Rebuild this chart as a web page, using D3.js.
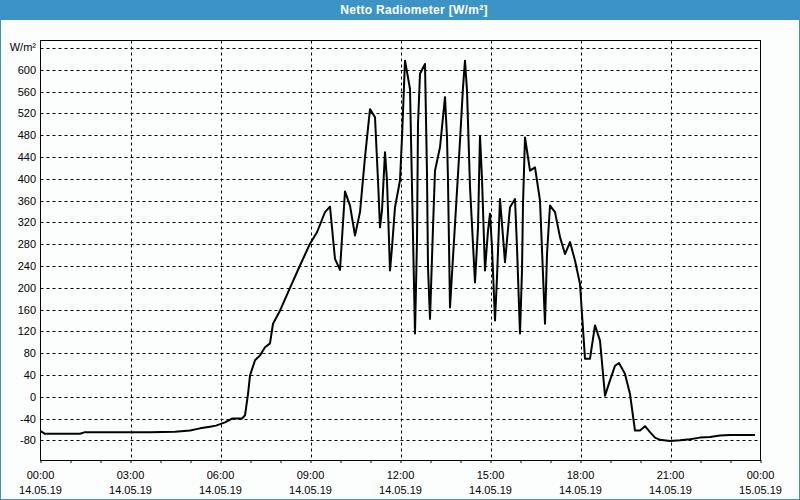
<!DOCTYPE html>
<html>
<head>
<meta charset="utf-8">
<script src="https://cdn.jsdelivr.net/npm/d3@7"></script>
<style>
  html, body { margin: 0; padding: 0; background: #fcfefd; }
  svg { display: block; }
  text { font-family: "Liberation Sans", Arial, sans-serif; font-size: 11px; fill: #000; }
</style>
</head>
<body>
<script>
// ---- data ----
const times = ["00:00","00:09","01:19","01:29","02:39","03:39","04:29","04:59","05:19","05:39","05:51","06:09","06:23","06:43","06:49","06:55","06:59","07:09","07:19","07:29","07:39","07:45","07:59","08:19","08:39","08:59","09:13","09:29","09:39","09:49","09:59","10:09","10:19","10:29","10:39","10:49","10:59","11:09","11:15","11:19","11:23","11:29","11:33","11:39","11:43","11:49","11:59","12:03","12:09","12:19","12:23","12:29","12:33","12:35","12:39","12:49","12:53","12:55","12:59","13:05","13:09","13:19","13:29","13:33","13:35","13:39","13:49","13:59","14:05","14:09","14:13","14:19","14:29","14:35","14:39","14:43","14:49","14:55","14:59","15:03","15:09","15:13","15:19","15:23","15:29","15:39","15:49","15:53","15:59","16:03","16:05","16:09","16:19","16:29","16:39","16:49","16:53","16:59","17:09","17:19","17:29","17:39","17:49","17:59","18:03","18:09","18:19","18:29","18:39","18:49","18:59","19:09","19:17","19:29","19:39","19:49","19:59","20:09","20:19","20:29","20:39","20:59","21:19","21:39","21:59","22:19","22:39","22:59","23:49"];
const values = [-63,-68,-68,-65,-65,-65,-64,-62,-58,-55,-53,-47,-40,-40,-34,5,39,67,76,91,98,134,158,200,241,281,302,339,349,253,233,377,351,296,339,440,528,513,397,311,342,449,397,232,274,348,397,476,617,565,385,116,287,501,593,611,409,238,143,311,415,458,550,476,397,164,317,470,568,617,562,385,210,311,479,400,232,305,336,274,140,219,363,317,247,348,363,274,116,232,354,476,415,421,360,134,262,351,339,293,262,284,250,207,152,70,70,131,103,2,30,57,62,42,5,-62,-62,-54,-65,-75,-79,-81,-80,-78,-75,-74,-71,-70,-70];
const yTicks = [-80,-40,0,40,80,120,160,200,240,280,320,360,400,440,480,520,560,600];
const yUnitLabel = "W/m²";
const yUnitAt = 640;
const xTickLabels = [["00:00","14.05.19"],["03:00","14.05.19"],["06:00","14.05.19"],["09:00","14.05.19"],["12:00","14.05.19"],["15:00","14.05.19"],["18:00","14.05.19"],["21:00","14.05.19"],["00:00","15.05.19"]];
const title = "Netto Radiometer [W/m²]";

// ---- layout ----
const W = 800, H = 500;
const svg = d3.select("body").append("svg").attr("width", W).attr("height", H);

svg.append("rect").attr("x", 0.5).attr("y", 0.5).attr("width", W - 1).attr("height", H - 1)
  .attr("fill", "#fcfefd").attr("stroke", "#3c93c6");
svg.append("rect").attr("x", 0).attr("y", 0).attr("width", W).attr("height", 20).attr("fill", "#3c93c6");
svg.append("text").attr("x", 414).attr("y", 10).attr("dy", "0.35em").attr("text-anchor", "middle")
  .style("fill", "#fff").style("font-weight", "bold").style("font-size", "12px")
  .style("letter-spacing", "0.3px").text(title);

const parse = d3.timeParse("%Y-%m-%d %H:%M");
const t0 = parse("2019-05-14 00:00"), t1 = parse("2019-05-15 00:00");
const dates = times.map(t => parse("2019-05-14 " + t));

const x = d3.scaleTime().domain([t0, t1]).range([40.5, 760.5]);
const y = d3.scaleLinear().domain([-117, 654]).range([460.5, 40.5]);

// gridlines
const g = svg.append("g");
g.selectAll("line.h").data(yTicks.concat([yUnitAt])).join("line")
  .attr("x1", x(t0)).attr("x2", x(t1))
  .attr("y1", d => Math.round(y(d)) + 0.5).attr("y2", d => Math.round(y(d)) + 0.5)
  .attr("stroke", "#000").attr("stroke-dasharray", "3,3");
const hours3 = d3.timeHour.every(3).range(d3.timeHour.offset(t0, 3), t1);
g.selectAll("line.v").data(hours3).join("line")
  .attr("y1", 40.5).attr("y2", 460.5)
  .attr("x1", d => Math.round(x(d)) + 0.5).attr("x2", d => Math.round(x(d)) + 0.5)
  .attr("stroke", "#000").attr("stroke-dasharray", "3,3");

// y labels
svg.selectAll("text.yl").data(yTicks).join("text")
  .attr("x", 36).attr("y", d => Math.round(y(d)) + 0.5).attr("dy", "0.35em")
  .attr("text-anchor", "end").text(d => d);
svg.append("text").attr("x", 36).attr("y", Math.round(y(yUnitAt)) - 0.5).attr("dy", "0.35em")
  .attr("text-anchor", "end").text(yUnitLabel);

// x axis ticks
const xAxis = d3.axisBottom(x).ticks(d3.timeHour.every(1)).tickSize(3).tickFormat("").tickSizeOuter(0);
const ax = svg.append("g").attr("transform", "translate(0,460)").call(xAxis);
ax.select(".domain").remove();
ax.selectAll("line").attr("stroke", "#000");

const majors = d3.timeHour.every(3).range(t0, d3.timeMinute.offset(t1, 1));
svg.selectAll("text.xl1").data(majors).join("text")
  .attr("x", d => x(d)).attr("y", 475).attr("dy", "0.35em").attr("text-anchor", "middle")
  .text((d, i) => xTickLabels[i][0]);
svg.selectAll("text.xl2").data(majors).join("text")
  .attr("x", d => x(d)).attr("y", 490).attr("dy", "0.35em").attr("text-anchor", "middle")
  .text((d, i) => xTickLabels[i][1]);

// data line
const line = d3.line().x((d, i) => x(dates[i])).y(d => y(d));
svg.append("path").datum(values).attr("d", line)
  .attr("fill", "none").attr("stroke", "#000").attr("stroke-width", 2).attr("stroke-linejoin", "round");

// plot frame
svg.append("rect").attr("x", 40.5).attr("y", 40.5).attr("width", 720).attr("height", 420)
  .attr("fill", "none").attr("stroke", "#000");
</script>
</body>
</html>
